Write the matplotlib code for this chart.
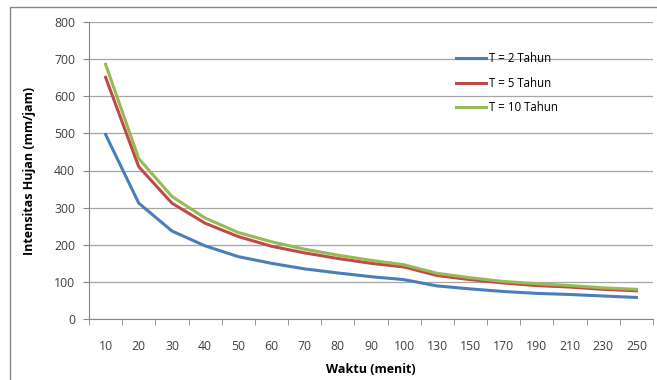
import matplotlib
matplotlib.use("Agg")
import matplotlib.pyplot as plt
from matplotlib.patches import Rectangle
import numpy as np

# durasi hujan (menit) dan intensitas (mm/jam) per periode ulang
waktu = ["10", "20", "30", "40", "50", "60", "70", "80", "90", "100",
         "130", "150", "170", "190", "210", "230", "250"]
t2 = [497, 312, 237, 197, 168, 150, 135, 124, 114, 106, 89, 81, 74, 69, 66, 62, 58]
t5 = [651, 410, 312, 258, 222, 196, 178, 163, 150, 140, 117, 106, 97, 90, 86, 80, 76]
t10 = [686, 432, 330, 272, 233, 208, 188, 172, 158, 146, 123, 111, 101, 95, 90, 84, 80]

plt.rcParams['font.family'] = ['Open Sans', 'DejaVu Sans']

fig = plt.figure(figsize=(6.57, 3.80), dpi=100)
W, H = 657, 380
ax = fig.add_axes([89 / W, 1 - 319 / H, (653 - 89) / W, (319 - 22) / H])

x = np.arange(len(waktu))
ax.plot(x, t2, color='#4A7EBB', lw=2.2, label='T = 2 Tahun')
ax.plot(x, t5, color='#BE4B48', lw=2.2, label='T = 5 Tahun')
ax.plot(x, t10, color='#98B954', lw=2.2, label='T = 10 Tahun')

ax.set_xlim(-0.5, len(waktu) - 0.5)
ax.set_ylim(0, 800)
ax.set_yticks(range(0, 801, 100))
ax.set_xticks(x)
ax.set_xticklabels(waktu)
ax.set_xticks(np.arange(-0.5, len(waktu), 1), minor=True)
ax.tick_params(axis='x', which='major', length=0, pad=15, labelsize=8.8, colors='#404040')
ax.tick_params(axis='x', which='minor', length=4, color='#868686')
ax.tick_params(axis='y', length=4, color='#868686', labelsize=8.8, labelcolor='#404040', pad=6)

ax.grid(axis='y', color='#A6A6A6', lw=0.9)
ax.set_axisbelow(True)
for s in ['top', 'right']:
    ax.spines[s].set_visible(False)
for s in ['left', 'bottom']:
    ax.spines[s].set_color('#868686')

ax.set_xlabel('Waktu (menit)', fontsize=9, fontweight='bold', labelpad=7)
ax.set_ylabel('Intensitas Hujan (mm/jam)', fontsize=9, fontweight='bold', labelpad=13)

fig.legend(loc='upper left', bbox_to_anchor=(446 / W, 1 - 42 / H), frameon=False,
           fontsize=8.3, handlelength=2.6, handletextpad=0.2, labelspacing=1.0)

fig.patches.append(Rectangle((10 / W, -0.1), 1.2, 1.1 - 7 / H, transform=fig.transFigure,
                             fill=False, edgecolor='#868686', lw=1))

plt.savefig("out.png", dpi=100)
